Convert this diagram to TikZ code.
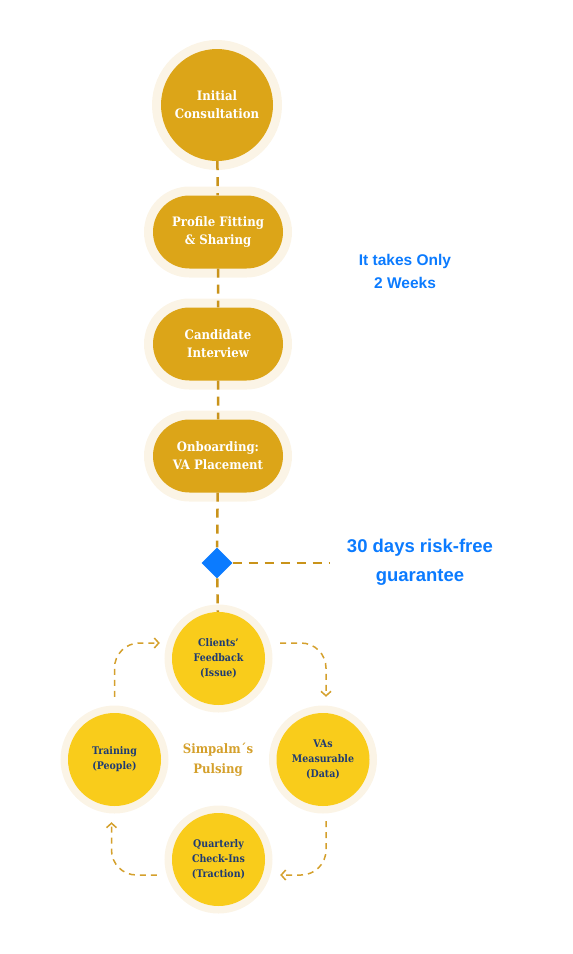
\documentclass[tikz,border=0pt]{standalone}
\usepackage{fontspec}
\setmainfont{DejaVu Serif Condensed}
\newfontfamily\bluefont{Liberation Sans}
\usepackage{tikz}
\usetikzlibrary{arrows.meta,positioning,shapes.geometric,shapes.misc}
\definecolor{goldfill}{RGB}{220,165,24}
\definecolor{halo}{RGB}{251,244,230}
\definecolor{pulse}{RGB}{249,204,27}
\definecolor{navy}{RGB}{31,59,115}
\definecolor{infoblue}{RGB}{11,123,255}
\definecolor{linegold}{RGB}{201,147,26}
\definecolor{arrgold}{RGB}{212,160,44}

\begin{document}
\begin{tikzpicture}[x=1pt, y=-1pt,
    bigstep/.style={circle, fill=goldfill, minimum size=112pt, inner sep=0pt, align=center, text=white,
        font=\fontsize{13}{18}\selectfont\bfseries, preaction={draw=halo, line width=18pt}},
    stagebox/.style={rounded rectangle, fill=goldfill, minimum width=130pt, minimum height=73pt, inner sep=0pt,
        align=center, text=white, font=\fontsize{13}{18}\selectfont\bfseries, preaction={draw=halo, line width=18pt}},
    pulsebox/.style={circle, fill=pulse, minimum size=93pt, inner sep=0pt, align=center, text=navy,
        font=\fontsize{10.5}{15}\selectfont\bfseries, preaction={draw=halo, line width=15pt}},
    link/.style={draw=linegold, line width=2.5pt, dash pattern=on 9pt off 7pt},
    cyc/.style={draw=arrgold, line width=1.5pt, dash pattern=on 6pt off 5pt, rounded corners=25pt,
        -{Straight Barb[length=4.5pt,width=10pt]}},
    note/.style={text=infoblue, align=center, font=\bluefont\bfseries},
]
\useasboundingbox (0,0) rectangle (573,954);

% hiring steps
\node[bigstep] (init) at (217,105) {Initial\\Consultation};
\node[stagebox] (prof) at (218,232) {Profile Fitting\\\& Sharing};
\node[stagebox] (cand) at (218,344) {Candidate\\Interview};
\node[stagebox] (onb) at (218,456) {Onboarding:\\VA Placement};
\node[diamond, fill=infoblue, minimum size=31pt, inner sep=0pt] (risk) at (217,563) {};
\coordinate (riskend) at (330,563);

% pulsing cycle
\node[pulsebox] (cfb) at (218.5,658.5) {Clients'\\Feedback\\(Issue)};
\node[pulsebox] (train) at (114.5,759.5) {Training\\(People)};
\node[pulsebox] (vas) at (323,759.5) {VAs\\Measurable\\(Data)};
\node[pulsebox] (qci) at (218.5,859.5) {Quarterly\\Check-Ins\\(Traction)};

\draw[link] (init) -- (prof);
\draw[link] (prof) -- (cand);
\draw[link] (cand) -- (onb);
\draw[link] (onb) -- (risk);
\draw[link] (risk) -- (cfb);
\draw[link] (risk) -- (riskend);

\draw[cyc] ([yshift=16pt]train.north) |- ([xshift=-12pt,yshift=15.5pt]cfb.west);
\draw[cyc] ([xshift=15pt,yshift=15.5pt]cfb.east) -| ([xshift=3pt,yshift=16pt]vas.north);
\draw[cyc] ([xshift=3pt,yshift=-15pt]vas.south) |- ([xshift=15pt,yshift=-15.5pt]qci.east);
\draw[cyc] ([xshift=-15pt,yshift=-15.5pt]qci.west) -| ([xshift=-3pt,yshift=-16pt]train.south);

% labels
\node[text=arrgold, align=center, font=\fontsize{13}{20}\selectfont\bfseries] (pulsename) at (218,760) {Simpalm´s\\Pulsing};
\node[note, font=\bluefont\bfseries\fontsize{15.5}{23}\selectfont] (weeks) at (405,271) {It takes Only\\2 Weeks};
\node[note, font=\bluefont\bfseries\fontsize{18.5}{29}\selectfont] (guarantee) at (420,562) {30 days risk-free\\guarantee};
\end{tikzpicture}
\end{document}
